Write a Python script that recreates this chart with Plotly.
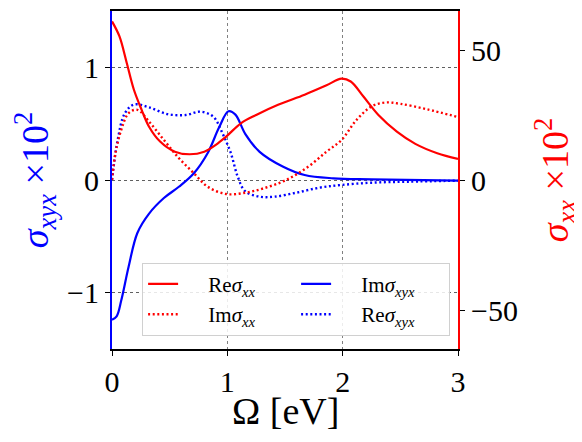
import plotly.graph_objects as go

# sigma_xx (x 10^2), right axis — photon energy in eV
re_sxx_x = [0.0, 0.064, 0.128, 0.19, 0.257, 0.32, 0.417, 0.545, 0.674, 0.80, 0.90, 0.99,
            1.12, 1.25, 1.44, 1.67, 1.86, 1.99, 2.07, 2.18, 2.31, 2.47, 2.63, 2.82, 3.0]
re_sxx = [61.0, 55.3, 45.0, 34.7, 27.0, 20.6, 14.8, 10.9, 9.9, 10.9, 13.5, 16.7,
          21.9, 25.0, 28.9, 32.8, 36.4, 39.0, 37.9, 32.1, 25.0, 18.6, 13.9, 10.3, 8.1]

im_sxx_x = [0.0, 0.03, 0.08, 0.144, 0.22, 0.32, 0.45, 0.58, 0.71, 0.83, 0.99, 1.155,
            1.315, 1.51, 1.70, 1.86, 1.99, 2.12, 2.25, 2.37, 2.50, 2.73, 3.0]
im_sxx = [0.0, 10.3, 19.3, 25.7, 27.0, 22.5, 15.4, 8.4, 2.6, -2.6, -5.4, -4.9,
          -3.2, 0.0, 5.1, 10.9, 15.4, 23.1, 28.3, 29.8, 29.3, 27.2, 24.2]

# sigma_xyx (x 10^2), left axis
im_sxyx_x = [0.0, 0.04, 0.08, 0.144, 0.22, 0.32, 0.45, 0.58, 0.71, 0.83, 0.93, 1.01,
             1.07, 1.155, 1.28, 1.48, 1.67, 1.92, 2.25, 3.0]
im_sxyx = [-1.24, -1.21, -1.07, -0.77, -0.47, -0.30, -0.16, -0.06, 0.06, 0.24, 0.47, 0.61,
           0.58, 0.41, 0.25, 0.12, 0.044, 0.015, 0.006, -0.006]

re_sxyx_x = [0.0, 0.05, 0.11, 0.19, 0.32, 0.48, 0.64, 0.77, 0.88, 0.96, 1.03, 1.09,
             1.155, 1.28, 1.41, 1.60, 1.80, 1.99, 2.25, 2.57, 3.0]
re_sxyx = [0.0, 0.36, 0.59, 0.67, 0.645, 0.585, 0.577, 0.607, 0.56, 0.41, 0.24, 0.03,
           -0.10, -0.148, -0.148, -0.112, -0.068, -0.044, -0.024, -0.015, -0.006]

RED = "#ff0000"
BLUE = "#0000ff"
FONT = "Liberation Serif"
DOTS = "2px,2.6px"
GAP = "\u2003\u2009"  # space between legend line and its label

fig = go.Figure()

# order chosen so the 2-per-row legend reads like the column layout of the original
fig.add_trace(go.Scatter(x=re_sxx_x, y=re_sxx, yaxis="y2", mode="lines", line_shape="spline",
                         line=dict(color=RED, width=2.2),
                         name=GAP + "Re<i>σ</i><sub><i>xx</i></sub>"))
fig.add_trace(go.Scatter(x=im_sxyx_x, y=im_sxyx, mode="lines", line_shape="spline",
                         line=dict(color=BLUE, width=2.2),
                         name=GAP + "Im<i>σ</i><sub><i>xyx</i></sub>"))
fig.add_trace(go.Scatter(x=im_sxx_x, y=im_sxx, yaxis="y2", mode="lines", line_shape="spline",
                         line=dict(color=RED, width=2.4, dash=DOTS),
                         name=GAP + "Im<i>σ</i><sub><i>xx</i></sub>"))
fig.add_trace(go.Scatter(x=re_sxyx_x, y=re_sxyx, mode="lines", line_shape="spline",
                         line=dict(color=BLUE, width=2.4, dash=DOTS),
                         name=GAP + "Re<i>σ</i><sub><i>xyx</i></sub>"))

# the page body has an 8px margin, so the figure is sized and placed to land on the reference
fig.update_layout(
    width=574, height=434,
    margin=dict(l=104, r=124, t=3, b=93, autoexpand=False),
    paper_bgcolor="white", plot_bgcolor="white",
    font=dict(family=FONT, color="black", size=30),
    showlegend=True,
    legend=dict(orientation="h", x=0.087, y=0.255, xanchor="left", yanchor="top",
                entrywidth=108, bgcolor="rgba(255,255,255,0.85)",
                bordercolor="#d0d0d0", borderwidth=1,
                font=dict(family=FONT, size=21), tracegroupgap=0),
    xaxis=dict(range=[0, 3], tickvals=[0, 1, 2, 3], showline=True, linecolor="black",
               linewidth=1.5, mirror=True, ticks="outside", ticklen=5, tickcolor="black",
               showgrid=True, gridcolor="#808080", griddash="dot", gridwidth=1,
               zeroline=False, automargin=False),
    yaxis=dict(range=[-1.5, 1.5], tickvals=[-1, 0, 1], showline=True, linecolor=BLUE,
               linewidth=2, ticks="outside", ticklen=5, tickcolor="black",
               showgrid=True, gridcolor="#606060", griddash="dot", gridwidth=1,
               zeroline=False, automargin=False,
               title=dict(text="<i>σ</i><sub><i>xyx</i></sub> ×10<sup>2</sup>",
                          font=dict(size=38, color=BLUE), standoff=14)),
    yaxis2=dict(range=[-65, 65], tickvals=[-50, 0, 50], overlaying="y", side="right",
                showline=True, linecolor=RED, linewidth=2, ticks="outside", ticklen=5,
                tickcolor="black", showgrid=False, zeroline=False, automargin=False,
                title=dict(text="<i>σ</i><sub><i>xx</i></sub> ×10<sup>2</sup>",
                           font=dict(size=38, color=RED), standoff=37)),
    annotations=[dict(text="Ω [eV]", xref="paper", yref="paper", x=0.5, y=-0.183,
                      xanchor="center", yanchor="middle", showarrow=False,
                      font=dict(family=FONT, size=38, color="black"))],
)

fig.write_html("out.html")
